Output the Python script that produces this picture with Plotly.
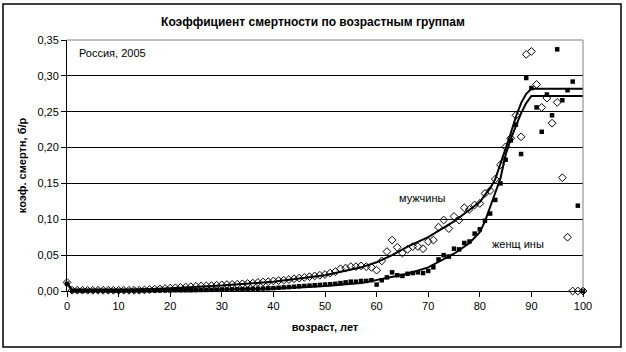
import plotly.graph_objects as go

ages = list(range(0, 101))

men = [0.012,
       0.001, 0.001, 0.001, 0.001, 0.001, 0.001, 0.001, 0.001, 0.001, 0.001,
       0.001, 0.001, 0.001, 0.001, 0.0015, 0.002, 0.0025, 0.003, 0.0035, 0.004,
       0.0045, 0.005, 0.0055, 0.006, 0.0065, 0.007, 0.0072, 0.0075, 0.008, 0.0085,
       0.009, 0.0092, 0.0095, 0.010, 0.0105, 0.011, 0.012, 0.0125, 0.013, 0.014,
       0.0145, 0.015, 0.016, 0.017, 0.018, 0.019, 0.020, 0.021, 0.022, 0.023,
       0.025, 0.027, 0.031, 0.032, 0.034, 0.034, 0.035, 0.034, 0.033, 0.029,
       0.042, 0.055, 0.071, 0.061, 0.053, 0.058, 0.062, 0.062, 0.059, 0.069,
       0.071, 0.089, 0.099, 0.087, 0.104, 0.099, 0.116, 0.114, 0.120, 0.122,
       0.136, 0.140, 0.156, 0.176, 0.201, 0.213, 0.245, 0.215, 0.330, 0.334,
       0.288, 0.256, 0.269, 0.234, 0.263, 0.158, 0.075, 0.0, 0.0, 0.0]

women = [0.010,
         0.0005, 0.0005, 0.0005, 0.0005, 0.0005, 0.0005, 0.0005, 0.0005, 0.0005, 0.0005,
         0.0005, 0.0005, 0.0005, 0.0005, 0.0007, 0.0007, 0.0007, 0.0008, 0.0008, 0.0008,
         0.001, 0.001, 0.001, 0.001, 0.0012, 0.0014, 0.0015, 0.0016, 0.0018, 0.002,
         0.0021, 0.0022, 0.0024, 0.0026, 0.0028, 0.003, 0.0032, 0.0034, 0.0037, 0.004,
         0.0045, 0.005, 0.0055, 0.006, 0.0065, 0.007, 0.0075, 0.008, 0.0085, 0.009,
         0.0095, 0.010, 0.011, 0.012, 0.013, 0.013, 0.014, 0.014, 0.015, 0.009,
         0.015, 0.019, 0.026, 0.022, 0.021, 0.024, 0.025, 0.026, 0.025, 0.028,
         0.033, 0.044, 0.050, 0.048, 0.059, 0.058, 0.067, 0.069, 0.080, 0.086,
         0.098, 0.108, 0.127, 0.150, 0.183, 0.210, 0.232, 0.191, 0.297, 0.283,
         0.256, 0.222, 0.274, 0.245, 0.337, 0.266, 0.280, 0.292, 0.119, 0.0]

men_line_ages = [0, 1, 10, 20, 30, 40, 50, 57, 60, 63, 66, 70, 75, 80, 81, 82, 83, 84, 85, 86, 87, 88, 89, 90, 100]
men_line = [0.012, 0.001, 0.001, 0.0037, 0.0075, 0.013, 0.022, 0.033, 0.040, 0.050, 0.062, 0.075, 0.097, 0.124, 0.134, 0.143, 0.156, 0.177, 0.197, 0.220, 0.243, 0.262, 0.275, 0.282, 0.282]

women_line_ages = [0, 1, 10, 20, 30, 40, 50, 57, 60, 63, 66, 70, 75, 78, 80, 81, 82, 83, 84, 85, 86, 87, 88, 89, 90, 100]
women_line = [0.010, 0.0005, 0.0005, 0.0008, 0.002, 0.0035, 0.007, 0.011, 0.015, 0.020, 0.024, 0.033, 0.052, 0.067, 0.082, 0.097, 0.116, 0.137, 0.157, 0.190, 0.212, 0.230, 0.248, 0.262, 0.272, 0.272]

y_ticks = [0, 0.05, 0.10, 0.15, 0.20, 0.25, 0.30, 0.35]
x_ticks = list(range(0, 101, 10))

FONT = "Liberation Sans, Arial, sans-serif"

fig = go.Figure()
fig.add_trace(go.Scatter(x=ages, y=men, mode="markers", name="мужчины", cliponaxis=False,
                         marker=dict(symbol="diamond-open", size=6, color="black",
                                     line=dict(width=1, color="black"))))
fig.add_trace(go.Scatter(x=ages, y=women, mode="markers", name="женщины", cliponaxis=False,
                         marker=dict(symbol="square", size=4.5, color="black")))
fig.add_trace(go.Scatter(x=men_line_ages, y=men_line, mode="lines",
                         line=dict(color="black", width=2)))
fig.add_trace(go.Scatter(x=women_line_ages, y=women_line, mode="lines",
                         line=dict(color="black", width=2)))

fig.update_layout(
    width=626, height=352,
    margin=dict(l=67, r=43, t=40, b=61),
    paper_bgcolor="white", plot_bgcolor="white",
    showlegend=False,
    separators=", ",
    font=dict(family=FONT, size=11, color="black"),
    title=dict(text="<b>Коэффициент смертности по возрастным группам</b>",
               x=0.5, xanchor="center", y=1 - 22 / 352, yanchor="middle",
               font=dict(size=12, family=FONT, color="black")),
    xaxis=dict(range=[0, 100], tickvals=x_ticks, showgrid=False, zeroline=False,
               showline=True, linecolor="black", linewidth=1,
               ticks="outside", ticklen=5, tickcolor="black",
               title=dict(text="<b>возраст, лет</b>", font=dict(size=11), standoff=12),
               mirror=False),
    yaxis=dict(range=[0, 0.35], tickvals=y_ticks, tickformat=".2f",
               showgrid=True, gridcolor="black", gridwidth=1, zeroline=False,
               showline=True, linecolor="black", linewidth=1,
               ticks="outside", ticklen=5, tickcolor="black",
               title=dict(text="<b>коэф. смертн, б/р</b>", font=dict(size=11), standoff=8)),
    shapes=[
        dict(type="line", xref="paper", yref="paper", x0=0, x1=1, y0=1, y1=1,
             line=dict(color="#808080", width=1)),
        dict(type="line", xref="paper", yref="paper", x0=1, x1=1, y0=0, y1=1,
             line=dict(color="#808080", width=1)),
        dict(type="rect", xref="paper", yref="paper",
             x0=-64 / 516, x1=1 + 38 / 516, y0=-56 / 251, y1=1 + 36 / 251,
             line=dict(color="black", width=1.5)),
    ],
    annotations=[
        dict(text="Россия, 2005", x=2, y=0.332, xref="x", yref="y",
             xanchor="left", yanchor="middle", showarrow=False, font=dict(size=11)),
        dict(text="мужчины", x=64, y=0.129, xref="x", yref="y",
             xanchor="left", yanchor="middle", showarrow=False, font=dict(size=11)),
        dict(text="женщ ины", x=82, y=0.066, xref="x", yref="y",
             xanchor="left", yanchor="middle", showarrow=False, font=dict(size=11)),
    ],
)

fig.write_html("out.html")
